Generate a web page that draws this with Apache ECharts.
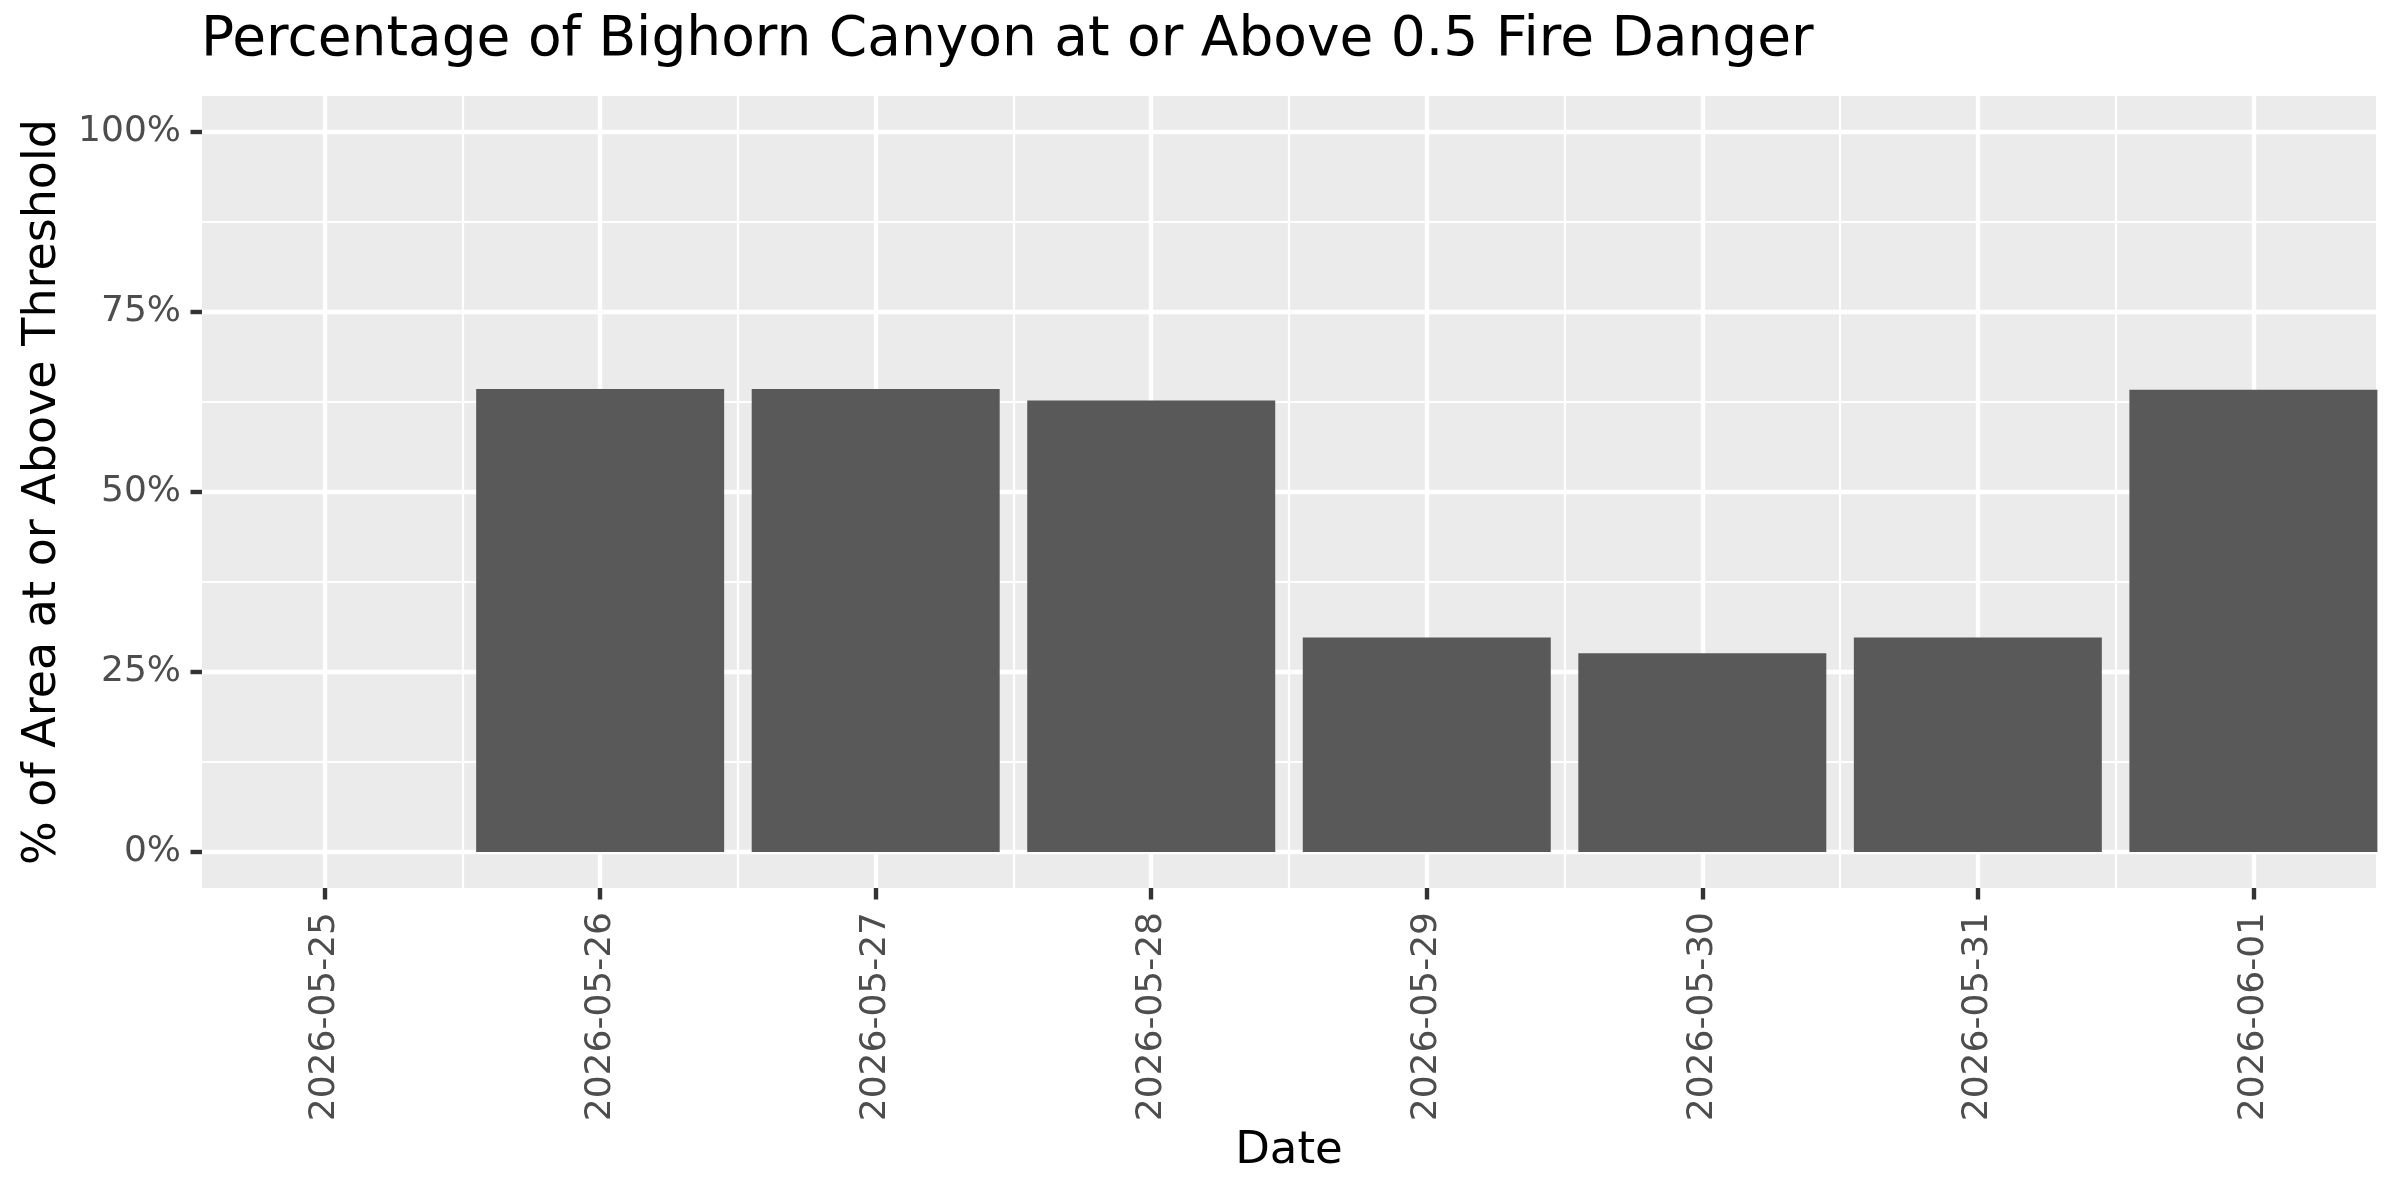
<!DOCTYPE html>
<html>
<head>
<meta charset="utf-8">
<script src="https://cdn.jsdelivr.net/npm/echarts@6/dist/echarts.min.js"></script>
<style>
html, body { margin: 0; padding: 0; background: #ffffff; }
#chart { width: 2400px; height: 1200px; }
</style>
</head>
<body>
<div id="chart"></div>
<script>
// ---- data ----
var dates = ['2026-05-25', '2026-05-26', '2026-05-27', '2026-05-28', '2026-05-29', '2026-05-30', '2026-05-31', '2026-06-01'];
var pctAbove = [0, 64.3, 64.3, 62.7, 29.8, 27.6, 29.8, 64.2];
var yTickValues = [0, 25, 50, 75, 100];
var yMinorValues = [12.5, 37.5, 62.5, 87.5];
var titleText = 'Percentage of Bighorn Canyon at or Above 0.5 Fire Danger';
var xTitle = 'Date';
var yTitle = '% of Area at or Above Threshold';

var xMajor = dates.map(function (d, i) { return i; });
var xMinor = dates.slice(1).map(function (d, i) { return i + 0.5; });
var barData = pctAbove.map(function (v, i) { return [i, v]; });

var FONT = 'DejaVu Sans';
var chart = echarts.init(document.getElementById('chart'), null, { renderer: 'canvas' });

var xBase = {
  type: 'value', min: -0.445, max: dates.length - 1 + 0.445,
  position: 'bottom',
  axisLine: { show: false, onZero: false }
};
var yBase = {
  type: 'value', min: -5, max: 105,
  position: 'left',
  axisLine: { show: false, onZero: false }
};

chart.setOption({
  animation: false,
  backgroundColor: '#ffffff',
  title: {
    text: titleText, left: 196, top: 8,
    textStyle: { fontFamily: FONT, fontSize: 55, fontWeight: 'normal', color: '#000000' }
  },
  grid: {
    left: 202, right: 24, top: 96, bottom: 312,
    show: true, backgroundColor: '#EBEBEB', borderWidth: 0
  },
  xAxis: [
    Object.assign({}, xBase, {
      name: xTitle, nameLocation: 'middle', nameGap: 241,
      nameTextStyle: { fontFamily: FONT, fontSize: 45, color: '#000000' },
      axisTick: { show: true, customValues: xMajor, length: 11.5, lineStyle: { color: '#333333', width: 4.4 } },
      axisLabel: {
        customValues: xMajor, rotate: 90, margin: 24,
        fontFamily: FONT, fontSize: 36, color: '#4D4D4D',
        formatter: function (v) { return dates[Math.round(v)]; }
      },
      splitLine: { show: true, lineStyle: { color: '#ffffff', width: 4.4 } }
    }),
    Object.assign({}, xBase, {
      axisTick: { show: false, customValues: xMinor },
      axisLabel: { show: false, customValues: xMinor },
      splitLine: { show: true, lineStyle: { color: '#ffffff', width: 2.2 } }
    })
  ],
  yAxis: [
    Object.assign({}, yBase, {
      name: yTitle, nameLocation: 'middle', nameGap: 136, nameRotate: 90,
      nameTextStyle: { fontFamily: FONT, fontSize: 46, color: '#000000' },
      axisTick: { show: true, customValues: yTickValues, length: 11.5, lineStyle: { color: '#333333', width: 4.4 } },
      axisLabel: {
        customValues: yTickValues, margin: 21,
        fontFamily: FONT, fontSize: 36, color: '#4D4D4D',
        formatter: function (v) { return Math.round(v) + '%'; }
      },
      splitLine: { show: true, lineStyle: { color: '#ffffff', width: 4.4 } }
    }),
    Object.assign({}, yBase, {
      axisTick: { show: false, customValues: yMinorValues },
      axisLabel: { show: false, customValues: yMinorValues },
      splitLine: { show: true, lineStyle: { color: '#ffffff', width: 2.2 } }
    })
  ],
  series: [{
    type: 'bar',
    xAxisIndex: 0, yAxisIndex: 0,
    data: barData,
    barWidth: '90%',
    itemStyle: { color: '#595959' }
  }]
});
</script>
</body>
</html>
